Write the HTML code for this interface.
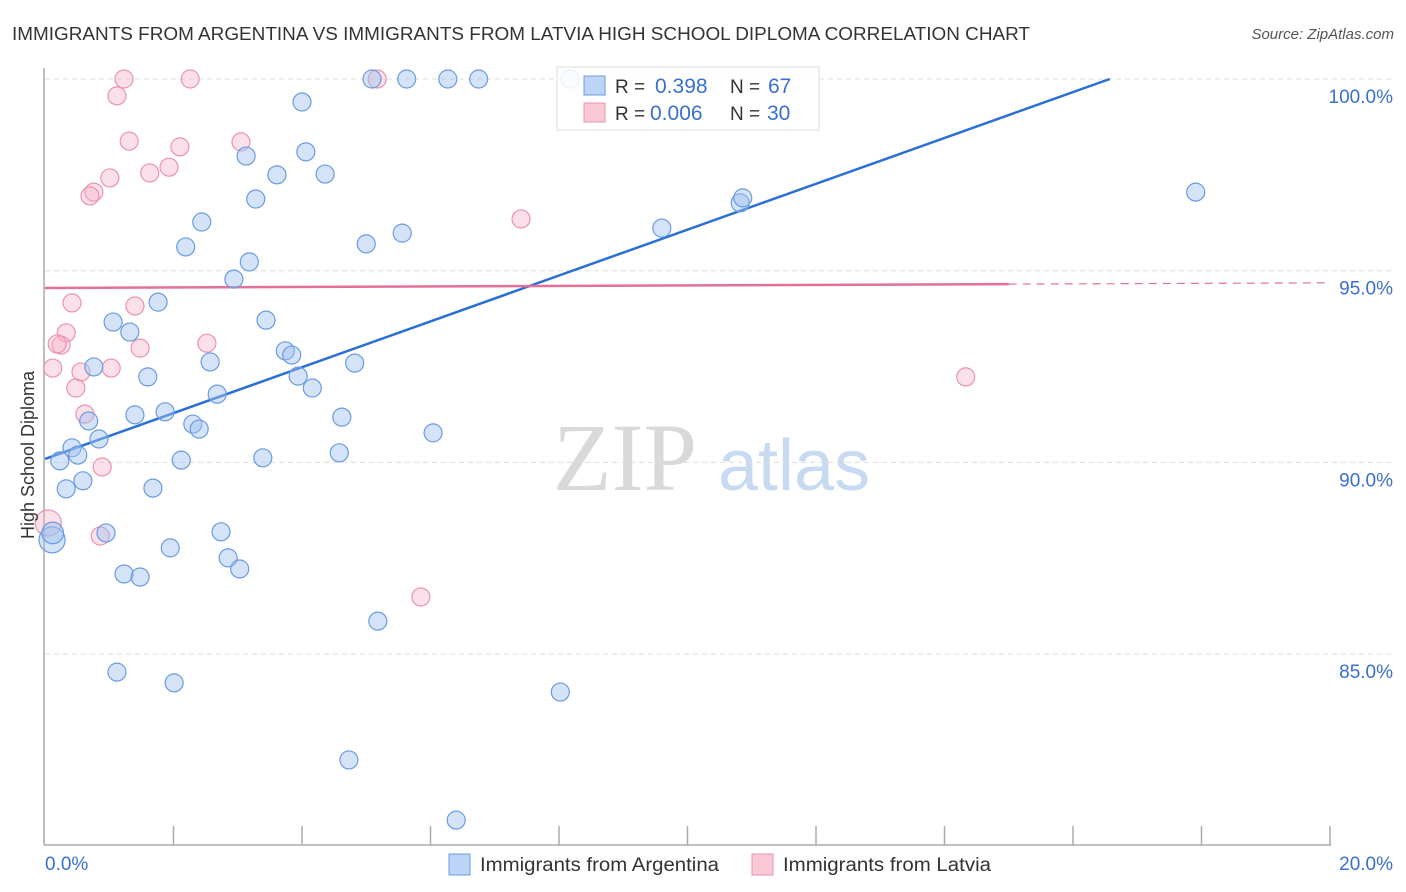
<!DOCTYPE html>
<html><head><meta charset="utf-8">
<style>
body{margin:0;background:#fff;font-family:"Liberation Sans",sans-serif;}
svg{display:block}
</style></head>
<body>
<svg id="chart" width="1406" height="892" xmlns="http://www.w3.org/2000/svg">
<text x="12" y="40" font-size="18" fill="#333" textLength="1018" lengthAdjust="spacingAndGlyphs">IMMIGRANTS FROM ARGENTINA VS IMMIGRANTS FROM LATVIA HIGH SCHOOL DIPLOMA CORRELATION CHART</text>
<text x="1394" y="39" font-size="15" fill="#555" font-style="italic" text-anchor="end">Source: ZipAtlas.com</text>
<g id="watermark">
<text x="553" y="490" font-family="Liberation Serif,serif" font-size="96" fill="#d9d9d9">ZIP</text>
<text x="718" y="490" font-size="72" fill="#c8daf2">atlas</text>
</g>
<g id="grid"></g>
<g id="axes"></g>
<g id="lines"></g>
<g id="points"></g>
<g id="legend">
<rect x="557" y="67" width="262" height="63" fill="rgba(255,255,255,0.85)" stroke="#ddd"/>
<rect x="584" y="76" width="21" height="19" fill="#bcd4f5" stroke="#6a9be0"/>
<rect x="584" y="103" width="21" height="19" fill="#fbc8d6" stroke="#e890ab"/>
<text x="615" y="93" font-size="19" fill="#333">R = </text><text x="655" y="93" font-size="21" fill="#3a6fcf">0.398</text>
<text x="730" y="93" font-size="19" fill="#333">N = </text><text x="768" y="93" font-size="21" fill="#3a6fcf">67</text>
<text x="615" y="120" font-size="19" fill="#333">R = </text><text x="650" y="120" font-size="21" fill="#3a6fcf">0.006</text>
<text x="730" y="120" font-size="19" fill="#333">N = </text><text x="767" y="120" font-size="21" fill="#3a6fcf">30</text>
</g>
<g id="bottom-legend">
<rect x="449" y="854" width="21" height="21" fill="#bcd4f5" stroke="#6a9be0"/>
<text x="480" y="871" font-size="19" fill="#333" textLength="239" lengthAdjust="spacingAndGlyphs">Immigrants from Argentina</text>
<rect x="752" y="854" width="21" height="21" fill="#fbc8d6" stroke="#e890ab"/>
<text x="783" y="871" font-size="19" fill="#333" textLength="208" lengthAdjust="spacingAndGlyphs">Immigrants from Latvia</text>
</g>
<text transform="translate(34,455) rotate(-90)" font-size="18" fill="#333" text-anchor="middle">High School Diploma</text>
</svg>
<script>
const argX=[5.09,5.63,6.27,6.75,8.17,4.00,3.13,4.06,3.61,4.36,3.28,2.44,2.19,5.00,5.56,3.18,2.94,9.60,10.82,10.86,17.91,1.76,1.06,1.32,3.44,0.76,1.60,2.57,3.74,3.84,3.94,4.16,4.82,2.68,1.87,1.40,0.68,2.30,2.40,4.62,6.04,0.42,0.84,0.51,0.23,0.59,0.33,1.68,2.12,3.39,4.58,0.95,2.74,1.95,2.85,3.03,1.23,1.48,0.11,0.12,5.18,1.12,2.01,8.02,4.73,6.40];
const argY=[100,100,100,100,100,99.40,97.99,98.10,97.50,97.52,96.87,96.27,95.62,95.70,95.98,95.23,94.78,96.11,96.77,96.90,97.05,94.18,93.66,93.40,93.71,92.49,92.23,92.62,92.91,92.80,92.25,91.94,92.59,91.78,91.32,91.24,91.08,91.00,90.87,91.18,90.77,90.38,90.61,90.19,90.04,89.52,89.31,89.33,90.06,90.12,90.25,88.16,88.19,87.77,87.51,87.22,87.09,87.01,87.98,88.16,85.86,84.53,84.25,84.01,82.24,80.67];
const argSize=[1,1,1,1,1,1,1,1,1,1,1,1,1,1,1,1,1,1,1,1,1,1,1,1,1,1,1,1,1,1,1,1,1,1,1,1,1,1,1,1,1,1,1,1,1,1,1,1,1,1,1,1,1,1,1,1,1,1,1.45,1.2,1,1,1,1,1,1];
const latX=[1.23,2.26,5.17,1.12,1.31,3.05,2.10,1.63,1.01,1.93,0.76,0.70,7.41,0.42,1.40,0.33,0.25,0.19,2.52,1.48,0.12,0.56,1.03,0.48,0.62,0.89,0.86,0.05,5.85,14.33];
const latY=[100,100,100,99.56,98.38,98.36,98.23,97.55,97.42,97.70,97.05,96.95,96.35,94.16,94.08,93.38,93.06,93.09,93.11,92.98,92.46,92.36,92.46,91.94,91.26,89.88,88.08,88.42,86.49,92.23];
const latSize=[1,1,1,1,1,1,1,1,1,1,1,1,1,1,1,1,1,1,1,1,1,1,1,1,1,1,1,1.45,1,1];
const argTrend=[90.09,0.598];
const latTrend=[94.55,0.0067];
const yTicks=[100,95,90,85];
const yTickLabels=["100.0%","95.0%","90.0%","85.0%"];
const xTicks=[0,2,4,6,8,10,12,14,16,18,20];

const NS="http://www.w3.org/2000/svg";
const X=v=>45+v*(1285/20);
const Y=v=>79+(100-v)*38.34;
function mk(tag,attrs,parent){const e=document.createElementNS(NS,tag);for(const k in attrs)e.setAttribute(k,attrs[k]);document.getElementById(parent).appendChild(e);return e;}

yTicks.forEach((t,i)=>{
  const g=mk('line',{x1:45,x2:1393,y1:Y(t),y2:Y(t),stroke:'#ddd','stroke-dasharray':'5,4'},'grid');
  
  
  const l=mk('text',{x:1393,y:Y(t)+24,'font-size':19,fill:'#3a6fcf','text-anchor':'end'},'grid');
  l.textContent=yTickLabels[i];
  
  
});
const ya=mk('line',{x1:44,x2:44,y1:68,y2:845,stroke:'#aaa','stroke-width':1.5},'axes');


const xa=mk('line',{x1:44,x2:1331,y1:845,y2:845,stroke:'#aaa','stroke-width':1.5},'axes');


xTicks.forEach(t=>{if(t===0)return;
  const k=mk('line',{x1:X(t),x2:X(t),y1:826,y2:845,stroke:'#aaa','stroke-width':1.5},'axes');
  
  
});
const x0=mk('text',{x:45,y:870,'font-size':19,fill:'#3a6fcf'},'axes');x0.textContent=xTicks[0].toFixed(1)+'%';


const x1=mk('text',{x:1393,y:870,'font-size':19,fill:'#3a6fcf','text-anchor':'end'},'axes');x1.textContent=xTicks[xTicks.length-1].toFixed(1)+'%';



function drawPts(xs,ys,sz,fill,stroke,name){
  xs.forEach((x,i)=>{
    const c=mk('circle',{cx:X(x),cy:Y(ys[i]),r:9*sz[i],fill:fill,stroke:stroke,'stroke-width':1.2},'points');
    
    
  });
}
drawPts(latX,latY,latSize,'rgba(246,178,200,0.4)','#ea93ae','point-latvia');
drawPts(argX,argY,argSize,'rgba(160,194,240,0.45)','#6a9be0','point-argentina');

let bxEnd=Math.min(20,(100-argTrend[0])/argTrend[1]);
const bl=mk('line',{x1:X(0),y1:Y(argTrend[0]),x2:X(bxEnd),y2:Y(argTrend[0]+argTrend[1]*bxEnd),stroke:'#2a6fd6','stroke-width':2.5},'lines');


const pl=mk('line',{x1:X(0),y1:Y(latTrend[0]),x2:X(15),y2:Y(latTrend[0]+latTrend[1]*15),stroke:'#e4709a','stroke-width':2.5},'lines');


const pd=mk('line',{x1:X(15),y1:Y(latTrend[0]+latTrend[1]*15),x2:X(20),y2:Y(latTrend[0]+latTrend[1]*20),stroke:'#e4709a','stroke-width':1.2,'stroke-dasharray':'8,6'},'lines');


</script>
</body></html>
